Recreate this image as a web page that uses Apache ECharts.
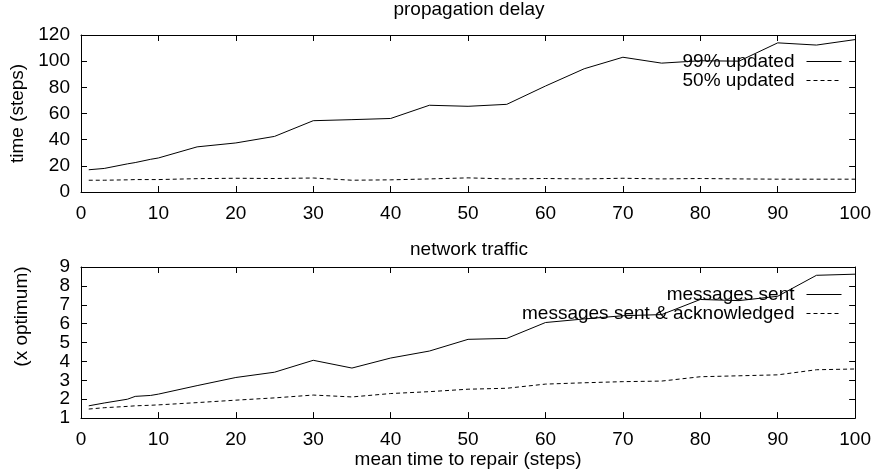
<!DOCTYPE html>
<html>
<head>
<meta charset="utf-8">
<script src="https://cdn.jsdelivr.net/npm/echarts@6/dist/echarts.min.js"></script>
<style>html,body{margin:0;padding:0;background:#fff;}#c{width:874px;height:470px;}</style>
</head>
<body>
<div id="c"></div>
<script>
const xSteps = [1, 3, 6, 7, 9, 10, 15, 20, 25, 30, 35, 40, 45, 50, 55, 60, 65, 70, 75, 80, 85, 90, 95, 100];
const updated99 = [17, 18, 21.5, 22.5, 25, 26, 34.5, 37.5, 42.5, 54.5, 55.3, 56.2, 66.3, 65.5, 67, 81, 94.2, 103, 98.5, 100.3, 100, 114, 112.3, 116.5];
const updated50 = [9, 9, 9.3, 9.5, 9.5, 9.5, 10.2, 10.5, 10.3, 10.7, 9, 9.3, 10, 10.8, 10, 10.3, 10, 10.5, 10, 10.3, 10, 9.8, 9.8, 9.8];
const msgSent = [1.65, 1.8, 2.0, 2.15, 2.2, 2.27, 2.72, 3.15, 3.43, 4.06, 3.65, 4.18, 4.55, 5.17, 5.22, 6.06, 6.25, 6.42, 6.48, 7.28, 7.22, 7.45, 8.56, 8.62];
const msgAcked = [1.48, 1.55, 1.62, 1.65, 1.68, 1.7, 1.82, 1.95, 2.07, 2.22, 2.12, 2.3, 2.4, 2.53, 2.58, 2.8, 2.87, 2.93, 2.96, 3.19, 3.24, 3.29, 3.56, 3.6];

const titles = ['propagation delay', 'network traffic'];
const yNames = ['time (steps)', '(x optimum)'];
const xName = 'mean time to repair (steps)';
const seriesNames = ['99% updated', '50% updated', 'messages sent', 'messages sent & acknowledged'];

const FONT = "'Liberation Sans', Arial, sans-serif";
const FS = 19;
const pair = (ys) => xSteps.map((x, i) => [x, ys[i]]);

const txt = {color: '#000', fontFamily: FONT, fontSize: FS};
const axLine = {show: true, onZero: false, lineStyle: {color: '#000', width: 1}};
const tick = {show: true, inside: true, length: 6, lineStyle: {color: '#000', width: 1}};

function xAx(grid, pos, showLabel, name) {
  return {
    type: 'value', gridIndex: grid, position: pos, min: 0, max: 100, interval: 10,
    axisLine: axLine, axisTick: tick, splitLine: {show: false},
    axisLabel: Object.assign({show: showLabel, margin: 12}, txt),
    name: name || '', nameLocation: 'middle', nameGap: 30, nameTextStyle: txt
  };
}
function yAx(grid, pos, showLabel, min, max, interval, name, gap, nameExtra) {
  return {
    type: 'value', gridIndex: grid, position: pos, min: min, max: max, interval: interval,
    axisLine: axLine, axisTick: tick, splitLine: {show: false},
    axisLabel: Object.assign({show: showLabel, margin: 11}, txt),
    name: name || '', nameLocation: 'middle', nameGap: gap || 46,
    nameTextStyle: Object.assign({}, txt, nameExtra || {})
  };
}
function lineSeries(name, data, xi, yi, dashed) {
  return {
    name: name, type: 'line', xAxisIndex: xi, yAxisIndex: yi, data: data,
    symbol: 'none', showSymbol: false, animation: false, silent: true,
    lineStyle: {color: '#000', width: 1, type: dashed ? [4, 3] : 'solid'},
    itemStyle: {color: '#000'}
  };
}
function legendAt(names, top) {
  return {
    data: names, orient: 'vertical', right: 32, top: top, align: 'right', padding: 0,
    itemWidth: 35, itemHeight: 10, itemGap: 0,
    itemStyle: {opacity: 0},
    lineStyle: {width: 1},
    textStyle: Object.assign({lineHeight: 19, padding: [0, 7, 0, 0]}, txt), selectedMode: false
  };
}

const chart = echarts.init(document.getElementById('c'), null, {renderer: 'canvas'});
chart.setOption({
  backgroundColor: '#fff',
  animation: false,
  title: [
    {text: titles[0], left: 469, top: 0, textAlign: 'center', padding: 0, textStyle: Object.assign({fontWeight: 'normal'}, txt)},
    {text: titles[1], left: 469, top: 240, textAlign: 'center', padding: 0, textStyle: Object.assign({fontWeight: 'normal'}, txt)}
  ],
  legend: [
    legendAt([seriesNames[0], seriesNames[1]], 52),
    legendAt([seriesNames[2], seriesNames[3]], 285)
  ],
  grid: [
    {left: 81, right: 17, top: 35, height: 157},
    {left: 81, right: 17, top: 267, height: 155}
  ],
  xAxis: [
    xAx(0, 'bottom', true),
    xAx(0, 'top', false),
    xAx(1, 'bottom', true, xName),
    xAx(1, 'top', false)
  ],
  yAxis: [
    yAx(0, 'left', true, 0, 120, 20, yNames[0], 42),
    yAx(0, 'right', false, 0, 120, 20),
    yAx(1, 'left', true, 1, 9, 1, yNames[1], 50, {padding: [0, 0, 0, 52]}),
    yAx(1, 'right', false, 1, 9, 1)
  ],
  series: [
    lineSeries(seriesNames[0], pair(updated99), 0, 0, false),
    lineSeries(seriesNames[1], pair(updated50), 0, 0, true),
    lineSeries(seriesNames[2], pair(msgSent), 2, 2, false),
    lineSeries(seriesNames[3], pair(msgAcked), 2, 2, true)
  ]
});
</script>
</body>
</html>
